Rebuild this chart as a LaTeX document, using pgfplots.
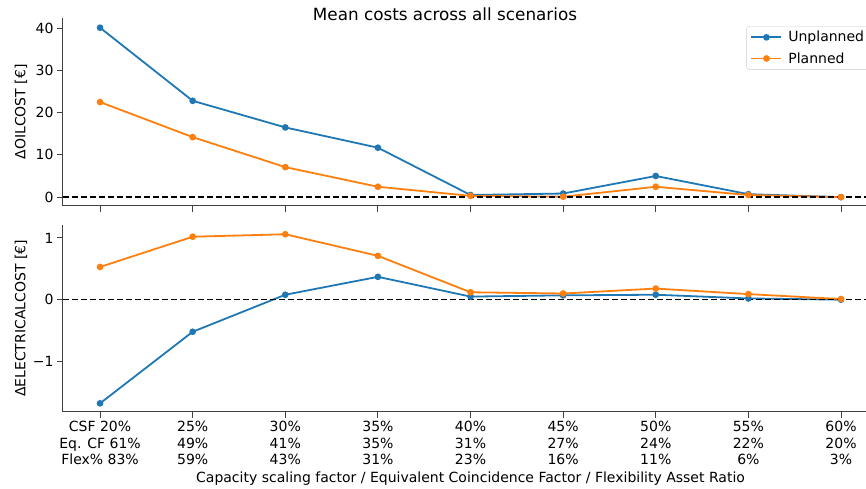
\documentclass[border=0pt]{standalone}
\usepackage{fontspec}
\setmainfont{DejaVu Sans}
\usepackage{pgfplots}
\pgfplotsset{compat=1.18}
\definecolor{tabblue}{HTML}{1F77B4}
\definecolor{taborange}{HTML}{FF7F0E}
\pgfplotsset{
  mystyle/.style={
    scale only axis, width=803pt,
    xmin=-0.4, xmax=8.27,
    axis x line*=bottom, axis y line*=left,
    axis line style={-, draw=black!75, line width=1pt},
    tick align=outside, major tick length=6pt,
    tick style={draw=black!75, line width=1pt},
    xtick={0,1,2,3,4,5,6,7,8},
    font=\fontsize{14}{16.5}\selectfont,
    ticklabel style={font=\fontsize{14}{16.5}\selectfont},
    /pgf/number format/assume math mode=true,
    every axis plot/.append style={line width=1.8pt, mark=*, mark size=2.4pt},
    clip=false,
  },
}
\begin{document}
\begin{tikzpicture}
% top axis
\begin{axis}[mystyle, at={(0pt,206pt)}, anchor=south west, height=188pt,
  ymin=-2.1, ymax=42.4, ytick={0,10,20,30,40},
  xticklabels={},
  ylabel={ΔOILCOST [€]},
  ylabel style={at={(axis description cs:-0.0523,0.5)}, anchor=center},
  title={Mean costs across all scenarios},
  title style={at={(axis description cs:0.4757,0.99)}, anchor=center, font=\fontsize{16.8}{18}\selectfont},
  legend cell align=left,
  legend style={at={(axis description cs:0.851,0.957)}, anchor=north west,
    draw=black!20, rounded corners=3pt, fill=white, font=\fontsize{14}{16}\selectfont,
    inner xsep=4pt, inner ysep=3pt, row sep=5pt, column sep=4pt},
  legend image code/.code={\draw[mark repeat=2,mark phase=2] plot coordinates {(0pt,0pt)(15pt,0pt)(30pt,0pt)};},
]
\addplot[tabblue, mark options={fill=tabblue}] coordinates {(0,40.1)(1,22.8)(2,16.5)(3,11.7)(4,0.5)(5,0.85)(6,5.0)(7,0.7)(8,0.0)};
\addlegendentry{Unplanned}
\addplot[taborange, mark options={fill=taborange}] coordinates {(0,22.5)(1,14.2)(2,7.1)(3,2.45)(4,0.3)(5,0.1)(6,2.45)(7,0.5)(8,0.0)};
\addlegendentry{Planned}
\addplot[black, line width=1.4pt, mark=none, dash pattern=on 6pt off 3pt, forget plot] coordinates {(-0.4,0)(8.27,0)};
\end{axis}
% bottom axis
\begin{axis}[mystyle, at={(0pt,0pt)}, anchor=south west, height=187pt,
  ymin=-1.82, ymax=1.21, ytick={-1,0,1}, yticklabels={−1,0,1},
  xticklabels={{CSF 20\%\\Eq. CF 61\%\\Flex\% 83\%},{25\%\\49\%\\59\%},{30\%\\41\%\\43\%},{35\%\\35\%\\31\%},{40\%\\31\%\\23\%},{45\%\\27\%\\16\%},{50\%\\24\%\\11\%},{55\%\\22\%\\6\%},{60\%\\20\%\\3\%}},
  xticklabel style={align=center},
  ylabel={ΔELECTRICALCOST [€]},
  ylabel style={at={(axis description cs:-0.0523,0.5)}, anchor=center},
  xlabel={Capacity scaling factor / Equivalent Coincidence Factor / Flexibility Asset Ratio},
  xlabel style={at={(axis description cs:0.5075,-0.358)}, anchor=center},
]
\addplot[tabblue, mark options={fill=tabblue}] coordinates {(0,-1.68)(1,-0.52)(2,0.08)(3,0.37)(4,0.05)(5,0.07)(6,0.08)(7,0.02)(8,0.0)};
\addplot[taborange, mark options={fill=taborange}] coordinates {(0,0.53)(1,1.02)(2,1.06)(3,0.71)(4,0.12)(5,0.1)(6,0.18)(7,0.09)(8,0.01)};
\addplot[black, line width=1.4pt, mark=none, dash pattern=on 6pt off 3pt] coordinates {(-0.4,0)(8.27,0)};
\end{axis}
\pgfresetboundingbox
\path (-63pt,-77pt) rectangle (803pt,412pt);
\end{tikzpicture}
\end{document}
